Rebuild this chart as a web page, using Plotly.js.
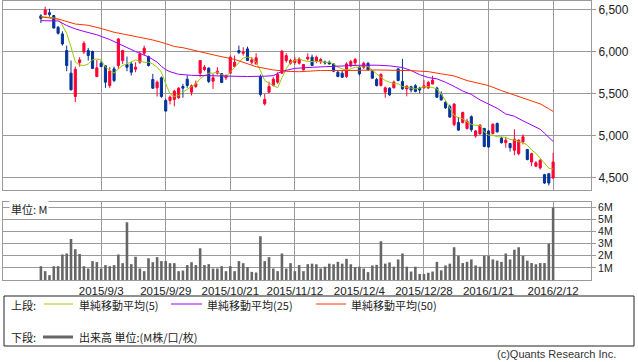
<!DOCTYPE html>
<html><head><meta charset="utf-8">
<script src="https://cdn.plot.ly/plotly-3.0.1.min.js"></script>
<style>html,body{margin:0;padding:0;background:#fff;}#chart{width:638px;height:362px;}</style>
</head><body><div id="chart"></div>
<script>
// trading-day index 0 = 2015/8/14 ... 119 = 2016/2/12
const openP = [6430,6445,6468,6433,6294,6215,6017,5748,5470,5874, 6000,6017,6005,5708,5866,5835,5601,5799,5839,5898, 5851,5858,5795,5878,5985,5946,5672,5573,5692,5423, 5423,5435,5455,5589,5676,5522,5589,5748,5791,5807, 5652,5748,5744,5692,5748,5827,6017,5985,6037,5878, 5858,5708,5383,5522,5601,5641,5748,5898,5866,5874, 5866,5787,5918,5938,5890,5882,5882,5878,5858,5759, 5748,5708,5835,5870,5819,5819,5866,5771,5672,5601, 5522,5569,5573,5799,5648,5560,5586,5598,5571,5571, 5571,5618,5571,5492,5402,5351,5135,5160,5160,5090, 5230,5000,5025,5090,5060,5030,5150,4975,4920,4910, 4830,4790,4930,4840,4690,4640,4620,4540,4550,4500];
const highP = [6450,6540,6515,6440,6310,6247,6076,5898,5827,5938, 6128,6049,6017,5906,5898,5839,5819,5827,6167,6025, 5946,5878,5878,6009,6076,5957,5740,5660,5708,5443, 5482,5550,5581,5621,5720,5613,5660,5898,5846,5819, 5740,5819,5748,5732,5957,5957,6076,6057,6064,5938, 5985,5732,5502,5648,5700,5760,6025,5985,5918,5938, 5938,5858,5985,5969,5957,5930,5898,5898,5866,5779, 5779,5878,5906,5930,5831,5886,5878,5779,5692,5748, 5589,5581,5660,5799,5918,5602,5598,5618,5586,5665, 5657,5716,5586,5531,5414,5374,5390,5225,5290,5206, 5245,5070,5140,5095,5070,5150,5160,4990,4990,4915, 5080,4960,5020,4845,4800,4700,4730,4550,4560,4800];
const lowP = [6345,6440,6420,6280,6207,6076,5771,5542,5403,5827, 5977,5898,5800,5700,5819,5573,5573,5641,5799,5858, 5771,5720,5759,5858,5957,5827,5561,5470,5455,5296, 5376,5352,5443,5455,5573,5482,5573,5700,5771,5629, 5561,5732,5629,5668,5748,5827,5977,5957,5898,5850, 5850,5470,5364,5510,5589,5621,5740,5874,5850,5850, 5850,5779,5898,5839,5866,5858,5850,5850,5759,5700, 5692,5692,5819,5839,5720,5799,5779,5680,5589,5589, 5455,5478,5569,5652,5550,5472,5520,5520,5508,5571, 5559,5618,5453,5422,5323,5218,5116,5060,5150,5076, 5050,4980,5015,4865,4860,5020,5040,4910,4860,4815, 4770,4770,4900,4710,4640,4630,4600,4430,4410,4490];
const closeP = [6400,6500,6445,6285,6223,6096,5839,5550,5795,5906, 6104,5958,5803,5811,5827,5641,5771,5660,6155,6017, 5819,5759,5819,5977,6045,5839,5569,5641,5470,5296, 5463,5534,5569,5569,5601,5597,5621,5898,5819,5649, 5692,5771,5637,5720,5938,5878,5993,5997,5898,5906, 5930,5494,5435,5589,5676,5732,6009,5957,5898,5906, 5918,5851,5938,5839,5938,5910,5870,5858,5771,5708, 5700,5858,5886,5910,5740,5866,5787,5688,5601,5732, 5573,5490,5641,5660,5561,5594,5547,5531,5547,5598, 5637,5665,5461,5429,5335,5225,5380,5070,5280,5175, 5075,5060,5130,4875,4870,5140,5050,4920,4950,4860, 4960,4950,4990,4720,4790,4680,4710,4440,4440,4690];
const volumeM = [1.14,0.73,0.40,1.14,1.14,2.11,2.19,3.38,2.55,2.14, 1.14,0.95,1.56,1.48,0.95,1.23,1.14,1.23,2.11,1.39, 4.78,1.31,1.92,0.95,0.73,1.80,1.47,1.89,1.56,1.56, 1.39,1.39,0.73,0.78,1.23,1.47,1.23,2.63,1.23,1.31, 0.95,0.95,1.14,0.73,1.14,0.73,1.56,1.39,1.06,0.67, 0.62,3.62,1.56,1.89,0.95,0.73,2.19,0.95,1.39,0.73, 1.23,0.73,1.31,1.35,1.30,0.95,1.10,1.35,1.30,1.50, 1.35,1.75,1.30,1.05,1.10,0.95,0.65,1.20,1.25,3.20, 1.35,1.45,1.10,1.70,2.20,1.10,0.70,1.10,0.50,0.50, 0.60,0.70,1.50,0.80,1.20,1.35,2.70,2.00,1.40,1.50, 1.70,1.20,1.10,2.00,2.00,1.70,1.60,1.50,2.20,1.70, 2.50,2.70,2.00,1.60,1.40,1.30,1.40,1.40,3.00,6.00];
const ma5 = [6420,6420,6413,6405,6390,6320,6220,6060,5880,5845, 5839,5858,5906,5918,5906,5819,5779,5748,5799,5839, 5858,5878,5906,5890,5878,5878,5858,5819,5760,5621, 5502,5470,5482,5522,5561,5589,5621,5680,5720,5748, 5748,5760,5732,5708,5760,5819,5878,5930,5938,5930, 5878,5779,5660,5629,5601,5573,5692,5799,5878,5898, 5918,5898,5886,5886,5890,5886,5878,5878,5858,5819, 5799,5787,5799,5819,5819,5839,5827,5779,5740,5700, 5660,5641,5621,5621,5589,5581,5573,5561,5570,5586, 5586,5578,5559,5500,5421,5335,5245,5218,5206,5167, 5139,5127,5127,5049,5010,5010,4990,4990,4982,4959, 4951,4931,4919,4892,4833,4794,4735,4676,4617,4606];
const ma25Idx = [0,4,6,8,10,13,16,19,22,25,27,28,29,30,32,35,40,44,48,52,54,56,59,63,66,70,74,78,81,84,86,88,90,92,94,96,98,100,102,104,106,108,110,112,114,116,117,119];
const ma25 = [6373,6370,6315,6275,6245,6205,6148,6075,6005,5942,5880,5830,5790,5765,5735,5722,5718,5708,5708,5712,5718,5770,5805,5818,5826,5835,5842,5843,5835,5815,5780,5730,5696,5680,5640,5590,5535,5495,5430,5380,5330,5262,5235,5180,5125,5080,5032,4935];
const ma50Idx = [0,4,8,11,14,17,20,23,26,29,31,33,35,37,41,45,47,50,54,57,60,65,72,78,86,90,93,96,99,102,104,107,109,112,114,116,118,119];
const ma50 = [6418,6393,6333,6318,6280,6235,6205,6178,6143,6100,6065,6051,6025,6005,5955,5912,5880,5825,5786,5770,5765,5780,5780,5786,5778,5766,5740,5715,5660,5625,5600,5540,5505,5450,5415,5382,5325,5292];
const tickIdx = [14,29,44,59,74,89,104,119];
const tickLabels = ['2015/9/3','2015/9/29','2015/10/21','2015/11/12','2015/12/4','2015/12/28','2016/1/21','2016/2/12'];
const priceTicks = [4500,5000,5500,6000,6500];
const volTicks = [1,2,3,4,5,6];
const volTickLabels = ['1M','2M','3M','4M','5M','6M'];

const idx = closeP.map((_, i) => i);
const F = "'Noto Sans CJK JP', 'Noto Sans', sans-serif";
const FN = "'Liberation Sans', Arial, sans-serif";
const GRID = '#9a9a9a';

const traces = [
  {type:'candlestick', x:idx, open:openP, high:highP, low:lowP, close:closeP, xaxis:'x', yaxis:'y',
   increasing:{line:{color:'#ff0033', width:1}, fillcolor:'#ff0033'},
   decreasing:{line:{color:'#003399', width:1}, fillcolor:'#003399'},
   whiskerwidth:0, showlegend:false, hoverinfo:'skip'},
  {type:'scatter', mode:'lines', x:idx, y:ma5, line:{color:'#99cc00', width:1}, xaxis:'x', yaxis:'y', showlegend:false},
  {type:'scatter', mode:'lines', x:ma25Idx, y:ma25, line:{color:'#9900ff', width:1}, xaxis:'x', yaxis:'y', showlegend:false},
  {type:'scatter', mode:'lines', x:ma50Idx, y:ma50, line:{color:'#ff3300', width:1}, xaxis:'x', yaxis:'y', showlegend:false},
  {type:'bar', x:idx, y:volumeM, width:0.6, marker:{color:'#666666', line:{width:0}}, xaxis:'x2', yaxis:'y2', showlegend:false}
];

const px = v => (v - 3) / 588;
const py = v => (280 - v) / 279;

const layout = {
  width:638, height:362,
  margin:{l:3, r:47, t:1, b:82},
  paper_bgcolor:'#fff', plot_bgcolor:'#fff',
  font:{family:F, size:11, color:'#222'},
  showlegend:false,
  xaxis:{domain:[0,1], range:[-8.8,127.8], anchor:'y', tickvals:tickIdx, ticktext:tickLabels,
    showticklabels:false, showgrid:true, gridcolor:GRID, gridwidth:1, zeroline:false, ticks:'',
    showline:true, mirror:true, linecolor:GRID, linewidth:1, rangeslider:{visible:false}},
  yaxis:{domain:[py(190), py(1)], range:[4357,6607], side:'right', tickvals:priceTicks, tickformat:',d',
    showgrid:true, gridcolor:GRID, gridwidth:1, zeroline:false, ticks:'outside', ticklen:4, tickcolor:GRID,
    showline:true, mirror:true, linecolor:GRID, linewidth:1, tickfont:{family:FN, size:12, color:'#222'}},
  xaxis2:{domain:[0,1], range:[-8.8,127.8], anchor:'y2', matches:'x', tickvals:tickIdx, ticktext:tickLabels,
    tickangle:0, automargin:false,
    showgrid:true, gridcolor:GRID, gridwidth:1, zeroline:false, ticks:'',
    showline:true, mirror:true, linecolor:GRID, linewidth:1, tickfont:{family:FN, size:11.5, color:'#222'}, rangeslider:{visible:false}},
  yaxis2:{domain:[0, py(201.7)], range:[0,6.47], side:'right', tickvals:volTicks, ticktext:volTickLabels,
    showgrid:true, gridcolor:GRID, gridwidth:1, zeroline:false, ticks:'outside', ticklen:4, tickcolor:GRID,
    showline:true, mirror:true, linecolor:GRID, linewidth:1, tickfont:{family:FN, size:10.5, color:'#222'}},
  shapes:[
    {type:'rect', xref:'paper', yref:'paper', x0:px(4), x1:px(634), y0:py(346), y1:py(296), line:{color:'#222', width:1}},
    {type:'line', xref:'paper', yref:'paper', x0:px(44), x1:px(73), y0:py(304), y1:py(304), line:{color:'#99cc00', width:1}},
    {type:'line', xref:'paper', yref:'paper', x0:px(171), x1:px(202), y0:py(304), y1:py(304), line:{color:'#9900ff', width:1}},
    {type:'line', xref:'paper', yref:'paper', x0:px(316), x1:px(346), y0:py(304), y1:py(304), line:{color:'#ff3300', width:1}},
    {type:'line', xref:'paper', yref:'paper', x0:px(43), x1:px(73), y0:py(337), y1:py(337), line:{color:'#666666', width:3}}
  ],
  annotations:[
    {text:'単位: M', xref:'paper', yref:'paper', x:px(9), y:py(209), xanchor:'left', yanchor:'middle', showarrow:false, bgcolor:'#fff', font:{size:11, color:'#222'}},
    {text:'上段:', xref:'paper', yref:'paper', x:px(9), y:py(305), xanchor:'left', yanchor:'middle', showarrow:false, font:{size:11}},
    {text:'単純移動平均(5)', xref:'paper', yref:'paper', x:px(77), y:py(305), xanchor:'left', yanchor:'middle', showarrow:false, font:{size:11}},
    {text:'単純移動平均(25)', xref:'paper', yref:'paper', x:px(205), y:py(305), xanchor:'left', yanchor:'middle', showarrow:false, font:{size:11}},
    {text:'単純移動平均(50)', xref:'paper', yref:'paper', x:px(349), y:py(305), xanchor:'left', yanchor:'middle', showarrow:false, font:{size:11}},
    {text:'下段:', xref:'paper', yref:'paper', x:px(9), y:py(337), xanchor:'left', yanchor:'middle', showarrow:false, font:{size:11}},
    {text:'出来高 単位:(M株/口/枚)', xref:'paper', yref:'paper', x:px(77), y:py(337), xanchor:'left', yanchor:'middle', showarrow:false, font:{size:11}},
    {text:'(c)Quants Research Inc.', xref:'paper', yref:'paper', x:px(618), y:py(354), xanchor:'right', yanchor:'middle', showarrow:false, font:{family:FN, size:11, color:'#333'}}
  ]
};

Plotly.newPlot('chart', traces, layout, {staticPlot:true, displayModeBar:false});
</script></body></html>
